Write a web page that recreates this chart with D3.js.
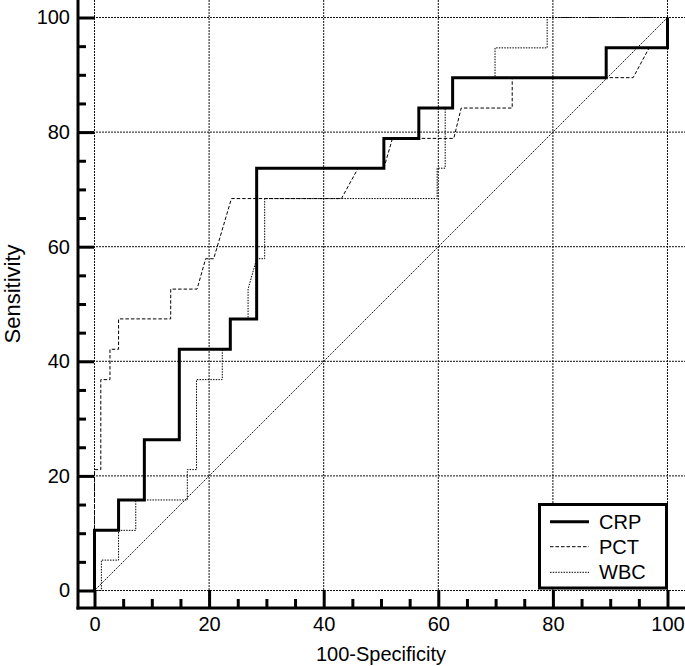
<!DOCTYPE html>
<html>
<head>
<meta charset="utf-8">
<script src="https://cdn.jsdelivr.net/npm/d3@7"></script>
<style>
  html, body { margin: 0; padding: 0; background: #fff; }
  svg { display: block; }
  text { font-family: Arial, "Liberation Sans", sans-serif; fill: #000; }
</style>
</head>
<body>
<svg id="chart" width="685" height="666"></svg>
<script>
// ---- data ----
const seriesNames = ["CRP", "PCT", "WBC"];
const xTicks = [0, 20, 40, 60, 80, 100];
const yTicks = [0, 20, 40, 60, 80, 100];
const minorTicks = [5, 10, 15, 25, 30, 35, 45, 50, 55, 65, 70, 75, 85, 90, 95];

const crpFpr  = [0, 0, 4.2, 4.2, 8.7, 8.7, 14.8, 14.8, 23.7, 23.7, 28.3, 28.3, 50.5, 50.5, 56.6, 56.6, 62.5, 62.5, 89.3, 89.3, 100, 100];
const crpSens = [0, 10.5, 10.5, 15.8, 15.8, 26.3, 26.3, 42.1, 42.1, 47.4, 47.4, 73.7, 73.7, 78.9, 78.9, 84.2, 84.2, 89.5, 89.5, 94.7, 94.7, 100];

const pctFpr  = [0, 0, 1.1, 1.1, 2.7, 2.7, 4.2, 4.2, 13.3, 13.3, 17.9, 19.4, 20.8, 23.9, 43.1, 46.0, 50.5, 52.0, 62.7, 64.0, 72.9, 72.9, 94.0, 96.8, 100, 100];
const pctSens = [0, 21.1, 21.1, 36.8, 36.8, 42.1, 42.1, 47.4, 47.4, 52.6, 52.6, 57.9, 57.9, 68.4, 68.4, 73.7, 73.7, 78.9, 78.9, 84.2, 84.2, 89.5, 89.5, 94.7, 94.7, 100];

const wbcFpr  = [0, 1.2, 1.2, 4.2, 4.2, 7.2, 7.2, 16.2, 16.2, 17.8, 17.8, 22.3, 22.3, 23.7, 23.7, 26.8, 26.8, 28.3, 29.7, 29.7, 59.8, 59.8, 61.2, 61.2, 62.5, 62.5, 69.9, 69.9, 79.0, 79.0, 100];
const wbcSens = [0, 0, 5.3, 5.3, 10.5, 10.5, 15.8, 15.8, 21.1, 21.1, 36.8, 36.8, 42.1, 42.1, 47.4, 47.4, 52.6, 57.9, 57.9, 68.4, 68.4, 73.7, 73.7, 84.2, 84.2, 89.5, 89.5, 94.7, 94.7, 100, 100];

const diagFpr = [0, 100];
const diagSens = [0, 100];

// ---- layout ----
const svg = d3.select("#chart");
const x = d3.scaleLinear().domain([0, 100]).range([94.5, 667.5]);
const y = d3.scaleLinear().domain([0, 100]).range([590.5, 17.5]);
const axisX = 78, axisY = 608;
const W = 685;

const styles = {
  CRP: { width: 3, dash: null, color: "#000" },
  PCT: { width: 1, dash: "3.5,2", color: "#000" },
  WBC: { width: 1, dash: "1.5,1.2", color: "#000" }
};

// grid
const grid = svg.append("g");
xTicks.forEach(t => {
  grid.append("line")
    .attr("x1", x(t)).attr("x2", x(t))
    .attr("y1", 0).attr("y2", axisY)
    .attr("stroke", "#111").attr("stroke-width", 1)
    .attr("stroke-dasharray", "2,1");
});
yTicks.forEach(t => {
  grid.append("line")
    .attr("x1", axisX).attr("x2", W)
    .attr("y1", y(t)).attr("y2", y(t))
    .attr("stroke", "#111").attr("stroke-width", 1)
    .attr("stroke-dasharray", "2,1");
});

// diagonal
const line = d3.line().x(d => x(d[0])).y(d => y(d[1]));
svg.append("path")
  .attr("d", line(d3.zip(diagFpr, diagSens)))
  .attr("fill", "none").attr("stroke", "#111").attr("stroke-width", 1)
  .attr("stroke-dasharray", "1.5,1");

// curves
const curves = {
  WBC: d3.zip(wbcFpr, wbcSens),
  PCT: d3.zip(pctFpr, pctSens),
  CRP: d3.zip(crpFpr, crpSens)
};
["WBC", "PCT", "CRP"].forEach(name => {
  const s = styles[name];
  const p = svg.append("path")
    .attr("d", line(curves[name]))
    .attr("fill", "none").attr("stroke", s.color)
    .attr("stroke-width", s.width)
    .attr("stroke-linejoin", "miter");
  if (s.dash) p.attr("stroke-dasharray", s.dash);
});

// axes
const yAxisMajor = d3.axisLeft(y).tickValues(yTicks).tickSize(-16).tickPadding(8).tickFormat(d3.format("d"));
const yAxisMinor = d3.axisLeft(y).tickValues(minorTicks).tickSize(-8).tickFormat("");
const xAxisMajor = d3.axisBottom(x).tickValues(xTicks).tickSize(-18).tickPadding(9).tickFormat(d3.format("d"));
const xAxisMinor = d3.axisBottom(x).tickValues(minorTicks).tickSize(-9).tickFormat("");

function styleAxis(g) {
  g.select(".domain").remove();
  g.selectAll(".tick line").attr("stroke", "#000").attr("stroke-width", 3);
  g.selectAll(".tick text").style("font-size", "20px").style("font-family", "Arial, 'Liberation Sans', sans-serif").attr("fill", "#000");
}
svg.append("g").attr("transform", `translate(${axisX},0)`).call(yAxisMinor).call(styleAxis);
svg.append("g").attr("transform", `translate(${axisX},0)`).call(yAxisMajor).call(styleAxis);
svg.append("g").attr("transform", `translate(0,${axisY})`).call(xAxisMinor).call(styleAxis);
svg.append("g").attr("transform", `translate(0,${axisY})`).call(xAxisMajor).call(styleAxis);

// axis lines
svg.append("line").attr("x1", axisX).attr("x2", axisX).attr("y1", 0).attr("y2", axisY + 1.5)
  .attr("stroke", "#000").attr("stroke-width", 3);
svg.append("line").attr("x1", axisX - 1.5).attr("x2", W).attr("y1", axisY).attr("y2", axisY)
  .attr("stroke", "#000").attr("stroke-width", 3);

// axis titles
svg.append("text")
  .attr("x", (x(0) + x(100)) / 2).attr("y", 661)
  .attr("text-anchor", "middle").style("font-size", "20px")
  .text("100-Specificity");
svg.append("text")
  .attr("transform", `translate(20,294) rotate(-90)`)
  .attr("text-anchor", "middle").style("font-size", "22px")
  .text("Sensitivity");

// legend
const lg = svg.append("g");
lg.append("rect").attr("x", 539.5).attr("y", 504.5).attr("width", 127).attr("height", 83.5)
  .attr("fill", "#fff").attr("stroke", "#000").attr("stroke-width", 3);
const legendY = [521.7, 546.7, 572.3];
seriesNames.forEach((name, i) => {
  const s = styles[name];
  const l = lg.append("line").attr("x1", 550).attr("x2", 589)
    .attr("y1", legendY[i]).attr("y2", legendY[i])
    .attr("stroke", s.color).attr("stroke-width", s.width);
  if (s.dash) l.attr("stroke-dasharray", s.dash);
  lg.append("text").attr("x", 599).attr("y", legendY[i] + 7)
    .style("font-size", "20px").text(name);
});
</script>
</body>
</html>
